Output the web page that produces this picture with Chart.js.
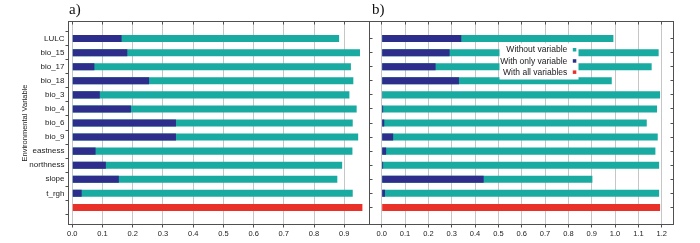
<!DOCTYPE html>
<html>
<head>
<meta charset="utf-8">
<script src="https://cdn.jsdelivr.net/npm/chart.js@4.4.1/dist/chart.umd.min.js"></script>
<style>
  body { margin: 0; background: #fff; }
  #wrap { position: relative; width: 700px; height: 243px; overflow: hidden; }
  canvas { position: absolute; top: 0; }
  #chart-a { left: 0; }
  #chart-b { left: 360px; }
  .tag { position: absolute; top: 2.4px; font: 15px/15px "Liberation Serif", "Times New Roman", serif; color: #111; }
</style>
</head>
<body>
<div id="wrap">
  <canvas id="chart-a" width="372" height="243"></canvas>
  <canvas id="chart-b" width="340" height="243"></canvas>
  <div class="tag" style="left:69px">a)</div>
  <div class="tag" style="left:372px">b)</div>
</div>
<script>
// rows, top to bottom (last row = model with all variables)
const rowLabels = ['LULC', 'bio_15', 'bio_17', 'bio_18', 'bio_3', 'bio_4', 'bio_6', 'bio_9',
  'eastness', 'northness', 'slope', 't_rgh', ''];
const seriesNames = ['Without variable', 'With only variable', 'With all variables'];

// panel a)
const withoutA = [0.883, 0.952, 0.922, 0.930, 0.917, 0.941, 0.928, 0.946, 0.927, 0.893, 0.877, 0.928, null];
const onlyA    = [0.163, 0.182, 0.073, 0.254, 0.091, 0.194, 0.343, 0.343, 0.077, 0.111, 0.154, 0.031, null];
const allA     = [null, null, null, null, null, null, null, null, null, null, null, null, 0.960];

// panel b)
const withoutB = [0.993, 1.187, 1.157, 0.986, 1.193, 1.180, 1.136, 1.183, 1.173, 1.189, 0.903, 1.189, null];
const onlyB    = [0.341, 0.291, 0.231, 0.331, 0.003, 0.006, 0.011, 0.049, 0.019, 0.006, 0.437, 0.014, null];
const allB     = [null, null, null, null, null, null, null, null, null, null, null, null, 1.193];

const xTicksA = [0, 0.1, 0.2, 0.3, 0.4, 0.5, 0.6, 0.7, 0.8, 0.9];
const xTicksB = [0, 0.1, 0.2, 0.3, 0.4, 0.5, 0.6, 0.7, 0.8, 0.9, 1.0, 1.1, 1.2];

const TEAL = '#19aba1';
const NAVY = '#2d2e8c';
const RED = '#ea3129';

Chart.defaults.font.family = '"Liberation Sans", Arial, sans-serif';
Chart.defaults.color = '#222';

// values -> {x, y} points, y = row index
function pts(arr) {
  const out = [];
  arr.forEach((v, i) => { if (v !== null) out.push({ x: v, y: i }); });
  return out;
}

function datasets(without, only, all) {
  const common = { grouped: false, barPercentage: 0.5, categoryPercentage: 1 };
  return [
    Object.assign({ label: seriesNames[0], data: pts(without), backgroundColor: TEAL, order: 1 }, common),
    Object.assign({ label: seriesNames[1], data: pts(only), backgroundColor: NAVY, order: 0 }, common),
    Object.assign({ label: seriesNames[2], data: pts(all), backgroundColor: RED, order: 2 }, common)
  ];
}

const al = v => Math.round(v - 0.5) + 0.5;

// box around plot area + small inward ticks
const frame = {
  id: 'frame',
  afterDatasetsDraw(chart, args, o) {
    const { ctx, chartArea: a } = chart;
    const sx = chart.scales.x, sy = chart.scales.y;
    const L = al(a.left), R = al(a.right), T = al(a.top), B = al(a.bottom);
    ctx.save();
    ctx.strokeStyle = '#505050';
    ctx.lineWidth = 1;
    ctx.strokeRect(L, T, R - L, B - T);
    ctx.beginPath();
    if (o.top) sx.ticks.forEach(t => {
      const x = al(sx.getPixelForValue(t.value));
      ctx.moveTo(x, T); ctx.lineTo(x, T + 3);
    });
    sy.ticks.forEach(t => {
      const y = al(sy.getPixelForValue(t.value));
      if (o.left) { ctx.moveTo(L, y); ctx.lineTo(L + 3, y); }
      if (o.right) { ctx.moveTo(R, y); ctx.lineTo(R - 3, y); }
    });
    ctx.stroke();
    ctx.restore();
  }
};

// legend drawn inside the plot of panel b
const boxLegend = {
  id: 'boxLegend',
  afterDraw(chart, args, o) {
    if (!o.show) return;
    const ctx = chart.ctx;
    ctx.save();
    ctx.fillStyle = '#fff';
    ctx.fillRect(o.x, o.y, o.w, o.h);
    ctx.font = o.size + 'px "Liberation Sans", Arial, sans-serif';
    ctx.textAlign = 'right';
    ctx.textBaseline = 'middle';
    chart.data.datasets.forEach((ds, i) => {
      const cy = o.y + o.first + i * o.gap;
      ctx.fillStyle = '#1a1a1a';
      ctx.fillText(ds.label, o.textRight, cy);
      ctx.fillStyle = ds.backgroundColor;
      ctx.fillRect(o.textRight + 5.5, cy - 2, 3.5, 3.5);
    });
    ctx.restore();
  }
};

function makeChart(id, without, only, all, xTicks, xMin, xMax, opts) {
  return new Chart(document.getElementById(id), {
    type: 'bar',
    data: { datasets: datasets(without, only, all) },
    plugins: [frame, boxLegend],
    options: {
      indexAxis: 'y',
      responsive: false,
      animation: false,
      devicePixelRatio: 1,
      layout: { padding: opts.padding },
      scales: {
        x: {
          type: 'linear',
          min: xMin,
          max: xMax,
          afterBuildTicks: s => { s.ticks = xTicks.map(v => ({ value: v })); },
          afterFit: s => { s.height = 18.5; },
          border: { display: false },
          grid: { color: '#c6c6c6', tickColor: '#505050', tickLength: 3 },
          ticks: {
            autoSkip: false, maxRotation: 0, padding: 2, color: '#222',
            font: { size: 7.5 },
            callback: v => v.toFixed(1)
          }
        },
        y: {
          type: 'linear',
          reverse: true,
          min: -0.66,
          max: 12.66,
          display: opts.yLabels,
          afterBuildTicks: s => { s.ticks = rowLabels.map((_, i) => ({ value: i })); },
          afterFit: s => { if (opts.yLabels) s.width = 68.5; },
          border: { display: false },
          grid: { drawOnChartArea: false, tickColor: '#505050', tickLength: 3 },
          ticks: {
            autoSkip: false, padding: 1, color: '#222',
            font: { size: 8 },
            callback: v => rowLabels[v]
          },
          title: {
            display: opts.yLabels,
            text: 'Environmental Variable',
            color: '#222',
            font: { size: 7.5 },
            padding: { top: 20.5, bottom: 0 }
          }
        }
      },
      plugins: {
        legend: { display: false },
        tooltip: { enabled: false },
        frame: opts.frame,
        boxLegend: opts.legend
      }
    }
  });
}

makeChart('chart-a', withoutA, onlyA, allA, xTicksA, -0.0126, 0.9835, {
  padding: { left: 0, right: 2.5, top: 21.5, bottom: 0 },
  yLabels: true,
  frame: { top: true, left: false, right: false },
  legend: { show: false }
});

makeChart('chart-b', withoutB, onlyB, allB, xTicksB, -0.0523, 1.2506, {
  padding: { left: 9.5, right: 26.5, top: 21.5, bottom: 0 },
  yLabels: false,
  frame: { top: true, left: true, right: true },
  legend: { show: true, x: 139.5, y: 43.5, w: 79, h: 36, first: 6.5, gap: 11.2, textRight: 207.3, size: 8.5 }
});
</script>
</body>
</html>
